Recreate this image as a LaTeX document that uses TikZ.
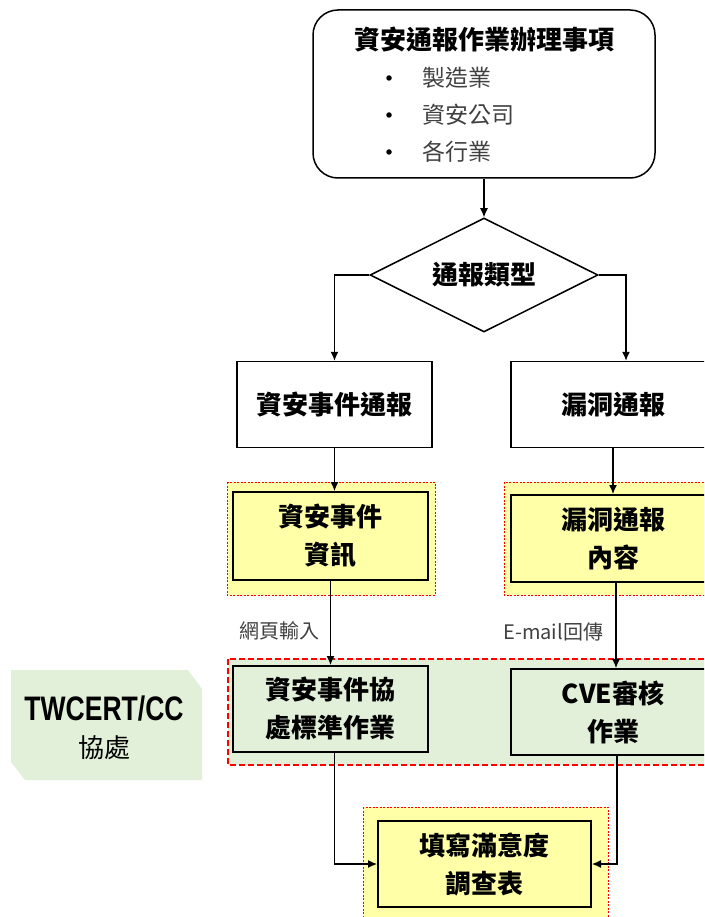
\documentclass[tikz,border=0pt]{standalone}
\usepackage{fontspec}
\setmainfont{Noto Sans CJK TC}
\newfontfamily\latinbold[Scale=1.0]{Liberation Sans}
\usetikzlibrary{shapes.geometric,arrows.meta}
\definecolor{ylw}{HTML}{FFFFA8}
\definecolor{grn}{HTML}{E2EFD9}
\definecolor{txtgray}{HTML}{404040}
\tikzset{
  arr/.style={-{Latex[length=9pt,width=8pt]}, line width=1.2pt},
  boxtxt/.style={font=\fontsize{26}{38}\selectfont\bfseries, align=center},
  plainbox/.style={boxtxt, draw, line width=1.5pt, minimum height=86pt, inner sep=0pt},
  ybox/.style={plainbox, fill=ylw, line width=2pt},
  gbox/.style={plainbox, fill=grn, line width=2pt},
  lbl/.style={font=\fontsize{20}{24}\selectfont, text=txtgray},
}
\begin{document}
\begin{tikzpicture}[x=1pt,y=-1pt]
    \useasboundingbox (0,0) rectangle (704,917);
    \clip (0,0) rectangle (704,917);

    \filldraw[fill=ylw, draw=red, line width=.7pt, dash pattern=on 2pt off 1.5pt] (227,482) rectangle (435,595);
    \filldraw[fill=ylw, draw=red, line width=.7pt, dash pattern=on 2pt off 1.5pt] (504,482) rectangle (720,595);
    \filldraw[fill=grn, draw=red, line width=1.5pt, dash pattern=on 6pt off 3pt] (228,659) rectangle (720,765);
    \filldraw[fill=ylw, draw=red, line width=.7pt, dash pattern=on 2pt off 1.5pt] (363,807) rectangle (608,930);
    \fill[grn] (11,670) -- (188,670) -- (202,689) -- (202,780) -- (25,780) -- (11,762) -- cycle;

    \node[draw, line width=1.5pt, rounded corners=25pt, minimum width=342pt, minimum height=168pt] (info) at (484,94) {};
    \node[boxtxt] (infoT) at (484,40) {資安通報作業辦理事項};
    \foreach \t [count=\i] in {製造業,資安公司,各行業} {
        \node[circle, fill, inner sep=0pt, minimum size=5.5pt] (dot\i) at (389,41+37*\i) {};
        \node[font=\fontsize{23}{26}\selectfont, text=txtgray, anchor=west, inner sep=0pt] (item\i) at (422,41+37*\i) {\t};
    }

    \node[diamond, draw, line width=1.5pt, aspect=2, minimum width=228pt, minimum height=114pt, inner sep=0pt, boxtxt] (type) at (484,275) {通報類型};

    \node[plainbox, minimum width=195pt] (evt) at (334.5,404.5) {資安事件通報};
    \node[plainbox, minimum width=204pt] (vul) at (613,404.5) {漏洞通報};

    \node[ybox, minimum width=195pt, minimum height=88pt] (evtinfo) at (330.5,536) {資安事件\\資訊};
    \node[ybox, minimum width=204pt, minimum height=87pt] (vulinfo) at (613,538.5) {漏洞通報\\內容};

    \node[gbox, minimum width=195pt] (proc) at (330.5,709) {資安事件協\\處標準作業};
    \node[gbox, minimum width=204pt] (cve) at (613,712) {CVE審核\\作業};

    \node[ybox, minimum width=213pt] (survey) at (484.5,864) {填寫滿意度\\調查表};

    \node[align=center, font=\fontsize{26}{37}\selectfont] (cert) at (104,728) {\scalebox{.78}[1]{\latinbold\fontsize{34}{37}\selectfont\bfseries TWCERT/CC}\\協處};

    \draw[arr] (info.south) -- (type.north);
    \draw[arr] (type.west) -| (evt.north);
    \draw[arr] (type.east) -| ([xshift=13pt]vul.north);
    \draw[arr] (evt.south) -- (evt.south |- evtinfo.north);
    \draw[arr] (vul.south) -- (vulinfo.north);
    \draw[arr] (evtinfo.south) -- (proc.north) node[lbl, pos=.59, left=7pt] (web) {網頁輸入};
    \draw[arr] ([xshift=3pt]vulinfo.south) -- ([xshift=3pt]cve.north) node[lbl, pos=.57, left=9pt] (mail) {E-mail回傳};
    \draw[arr] ([xshift=4pt]proc.south) |- (survey.west);
    \draw[arr] ([xshift=4pt]cve.south) |- (survey.east);

\end{tikzpicture}
\end{document}
